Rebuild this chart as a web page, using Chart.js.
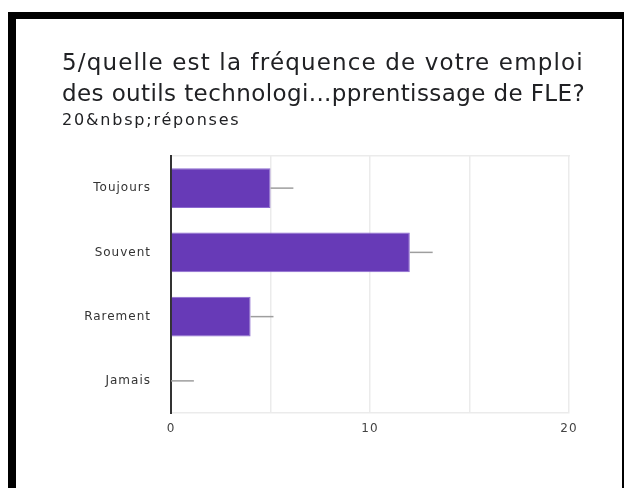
<!DOCTYPE html>
<html>
<head>
<meta charset="utf-8">
<script src="https://cdn.jsdelivr.net/npm/chart.js@4"></script>
<style>
  html, body { margin: 0; padding: 0; background: #fff; width: 632px; height: 488px; overflow: hidden; }
  #frame { position: absolute; left: 8px; top: 12px; width: 606px; height: 490px;
           border-left: 8px solid #000; border-top: 7px solid #000; border-right: 2px solid #000; }
  .t { position: absolute; left: 62px; font-family: "DejaVu Sans", sans-serif; color: #202124; white-space: nowrap; }
  #t1 { top: 49px; font-size: 23px; line-height: 26px; letter-spacing: 1.15px; }
  #t2 { top: 80px; font-size: 23px; line-height: 26px; letter-spacing: 0.4px; }
  #t3 { top: 111px; font-size: 16px; line-height: 18px; letter-spacing: 1.8px; }
  canvas { position: absolute; left: 0; top: 0; }
</style>
</head>
<body>
<div id="frame"></div>
<canvas id="c" width="632" height="488"></canvas>
<div class="t" id="t1">5/quelle est la fréquence de votre emploi</div>
<div class="t" id="t2">des outils technologi...pprentissage de FLE?</div>
<div class="t" id="t3">20&amp;nbsp;réponses</div>
<script>
const categories = ["Toujours", "Souvent", "Rarement", "Jamais"];
const counts = [5, 12, 4, 0];
const whiskers = [1.15, 1.15, 1.15, 1.15];
const xTickLabels = [0, 10, 20];

const whiskerPlugin = {
  id: 'whiskers',
  beforeDraw(chart) { chart.ctx.letterSpacing = '1px'; },
  afterDatasetsDraw(chart) {
    const ctx = chart.ctx, xs = chart.scales.x, ys = chart.scales.y;
    ctx.save();
    ctx.strokeStyle = '#9e9e9e';
    ctx.lineWidth = 1.5;
    counts.forEach((v, i) => {
      const y = ys.getPixelForValue(i);
      ctx.beginPath();
      ctx.moveTo(xs.getPixelForValue(v), y);
      ctx.lineTo(xs.getPixelForValue(v + whiskers[i]), y);
      ctx.stroke();
    });
    ctx.restore();
  }
};

new Chart(document.getElementById('c'), {
  type: 'bar',
  data: {
    labels: categories,
    datasets: [{
      data: counts,
      backgroundColor: '#673ab7',
      borderColor: '#8c6ad0',
      borderWidth: 1,
      categoryPercentage: 1,
      barPercentage: 0.62
    }]
  },
  options: {
    indexAxis: 'y',
    responsive: false,
    animation: false,
    layout: { padding: { left: 0, right: 63, top: 156, bottom: 0 } },
    plugins: { legend: { display: false }, tooltip: { enabled: false } },
    scales: {
      x: {
        min: 0, max: 20,
        afterFit: s => { s.height = 75; },
        ticks: {
          stepSize: 5,
          padding: 9,
          color: '#444',
          font: { family: '"DejaVu Sans", sans-serif', size: 12 },
          callback: v => xTickLabels.includes(v) ? String(v) : ''
        },
        grid: { color: '#ebebeb', lineWidth: 1.5, drawTicks: false },
        border: { color: '#ebebeb', width: 1.5 }
      },
      x2: {
        position: 'top', min: 0, max: 20,
        afterFit: s => { s.height = 0; },
        ticks: { display: false },
        grid: { display: false, drawTicks: false },
        border: { color: '#ebebeb', width: 1.5 }
      },
      y: {
        afterFit: s => { s.width = 171; },
        ticks: {
          padding: 20,
          color: '#333',
          font: { family: '"DejaVu Sans", sans-serif', size: 12 }
        },
        grid: { display: false, drawTicks: false },
        border: { color: '#333', width: 2 }
      }
    }
  },
  plugins: [whiskerPlugin]
});
</script>
</body>
</html>
